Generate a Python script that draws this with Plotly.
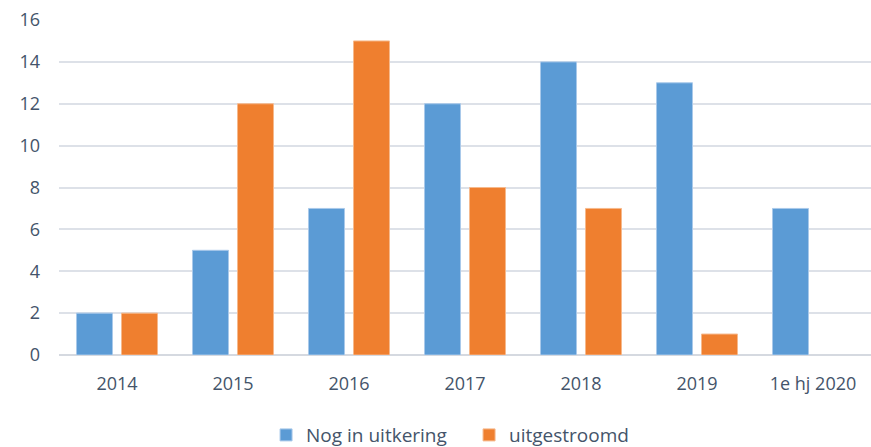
import plotly.graph_objects as go

categories = ["2014", "2015", "2016", "2017", "2018", "2019", "1e hj 2020"]
nog_in_uitkering = [2, 5, 7, 12, 14, 13, 7]
uitgestroomd = [2, 12, 15, 8, 7, 1, 0]

font_color = "#44546A"
fig = go.Figure()
fig.add_trace(go.Bar(
    x=categories, y=nog_in_uitkering, name="Nog in uitkering",
    marker=dict(color="#5B9BD5", line=dict(color="#A9C9EA", width=1)),
))
fig.add_trace(go.Bar(
    x=categories, y=uitgestroomd, name="uitgestroomd",
    marker=dict(color="#EF7F2F", line=dict(color="#F6B98C",
                width=[0 if v == 0 else 1 for v in uitgestroomd])),
))
fig.update_layout(
    width=871, height=447,
    margin=dict(l=59, r=0, t=20, b=92, autoexpand=False),
    paper_bgcolor="white", plot_bgcolor="white",
    barmode="group", bargap=0.224, bargroupgap=0.2,
    font=dict(family="Open Sans", size=17, color=font_color),
    showlegend=True,
    legend=dict(orientation="h", x=0.255, xanchor="left", y=-0.239, yanchor="middle",
                font=dict(size=19, color=font_color), itemwidth=30, traceorder="normal",
                entrywidth=158, entrywidthmode="pixels"),
    xaxis=dict(showgrid=False, showline=False, ticks="", tickfont=dict(size=18),
               automargin=False, ticklabelstandoff=16),
    yaxis=dict(range=[0, 16], dtick=2, showgrid=True, gridcolor="#DDE1E8", gridwidth=2,
               zeroline=True, zerolinecolor="#D5D9E0", zerolinewidth=2,
               tickfont=dict(size=18), ticks="", ticklabelstandoff=18, automargin=False),
)
fig.write_html("out.html", config={"displayModeBar": False},
               post_script="document.body.style.margin='0';document.body.style.overflow='hidden';")
